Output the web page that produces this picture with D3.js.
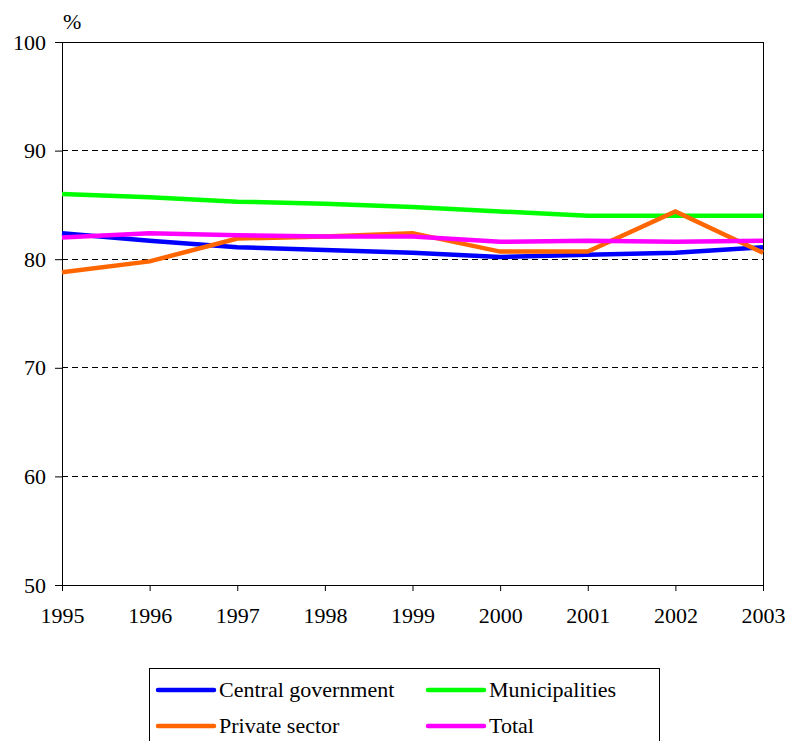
<!DOCTYPE html>
<html><head><meta charset="utf-8">
<script src="https://cdn.jsdelivr.net/npm/d3@7"></script>
<style>body{margin:0;background:#fff}svg{display:block}</style>
</head><body><svg id="c" width="787" height="741" font-family="Liberation Serif"></svg>
<script>
const years = [1995,1996,1997,1998,1999,2000,2001,2002,2003];
const yTicks = [50,60,70,80,90,100];
const seriesNames = ["Central government","Municipalities","Private sector","Total"];
const seriesColors = ["#0000ff","#00ff00","#ff6600","#ff00ff"];
const central = [82.4,81.7,81.1,80.85,80.6,80.2,80.4,80.6,81.1];
const municipalities = [86.0,85.7,85.3,85.1,84.8,84.4,84.0,84.0,84.0];
const privateSector = [78.8,79.8,81.9,82.1,82.4,80.7,80.7,84.4,80.6];
const total = [82.0,82.4,82.2,82.1,82.1,81.6,81.7,81.6,81.7];
const seriesValues = [central,municipalities,privateSector,total];

const svg = d3.select("#c");
const L=62,R=763,T=42,B=585;
const x = d3.scaleLinear().domain([1995,2003]).range([L,R]);
const y = d3.scaleLinear().domain([50,100]).range([B,T]);

function serif(sel){ sel.attr("font-family","Liberation Serif").attr("font-size",22); }

svg.append("g").selectAll("line").data([60,70,80,90]).join("line")
  .attr("x1",L).attr("x2",R).attr("y1",d=>y(d)).attr("y2",d=>y(d))
  .attr("stroke","#000").attr("stroke-width",1).attr("stroke-dasharray","6,4").attr("shape-rendering","crispEdges");
svg.append("line").attr("x1",L).attr("x2",R).attr("y1",T).attr("y2",T).attr("stroke","#000").attr("shape-rendering","crispEdges");
svg.append("line").attr("x1",R).attr("x2",R).attr("y1",T).attr("y2",B).attr("stroke","#000").attr("shape-rendering","crispEdges");

const yAxis = svg.append("g").attr("transform",`translate(${L},0)`)
  .call(d3.axisLeft(y).tickValues(yTicks).tickSize(7).tickPadding(9));
yAxis.attr("font-family",null).attr("font-size",null);
yAxis.select(".domain").attr("stroke","#000");
yAxis.selectAll("text").call(serif);
const xAxis = svg.append("g").attr("transform",`translate(0,${B})`)
  .call(d3.axisBottom(x).tickValues(years).tickFormat(d3.format("d")).tickSize(6).tickPadding(16));
xAxis.attr("font-family",null).attr("font-size",null);
xAxis.selectAll("text").call(serif);
svg.selectAll(".tick line").attr("stroke","#000");

svg.append("text").attr("x",63).attr("y",29).call(serif).text("%");

const line = d3.line().x((d,i)=>x(years[i])).y(d=>y(d));
seriesValues.forEach((vals,k)=>{
  svg.append("path").datum(vals).attr("d",line)
   .attr("fill","none").attr("stroke",seriesColors[k]).attr("stroke-width",4.5).attr("stroke-linejoin","miter");
});

const lg = svg.append("g");
lg.append("rect").attr("x",149.5).attr("y",668.5).attr("width",510).attr("height",80).attr("fill","#fff").attr("stroke","#000");
const pos=[[156,690],[426,690],[156,726],[426,726]];
seriesNames.forEach((n,i)=>{
  const [px,py]=pos[i];
  lg.append("line").attr("x1",px+2).attr("x2",px+58).attr("y1",py).attr("y2",py)
    .attr("stroke",seriesColors[i]).attr("stroke-width",4.5).attr("stroke-linecap","round");
  lg.append("text").attr("x",px+63).attr("y",py+7).call(serif).text(n);
});
</script></body></html>
